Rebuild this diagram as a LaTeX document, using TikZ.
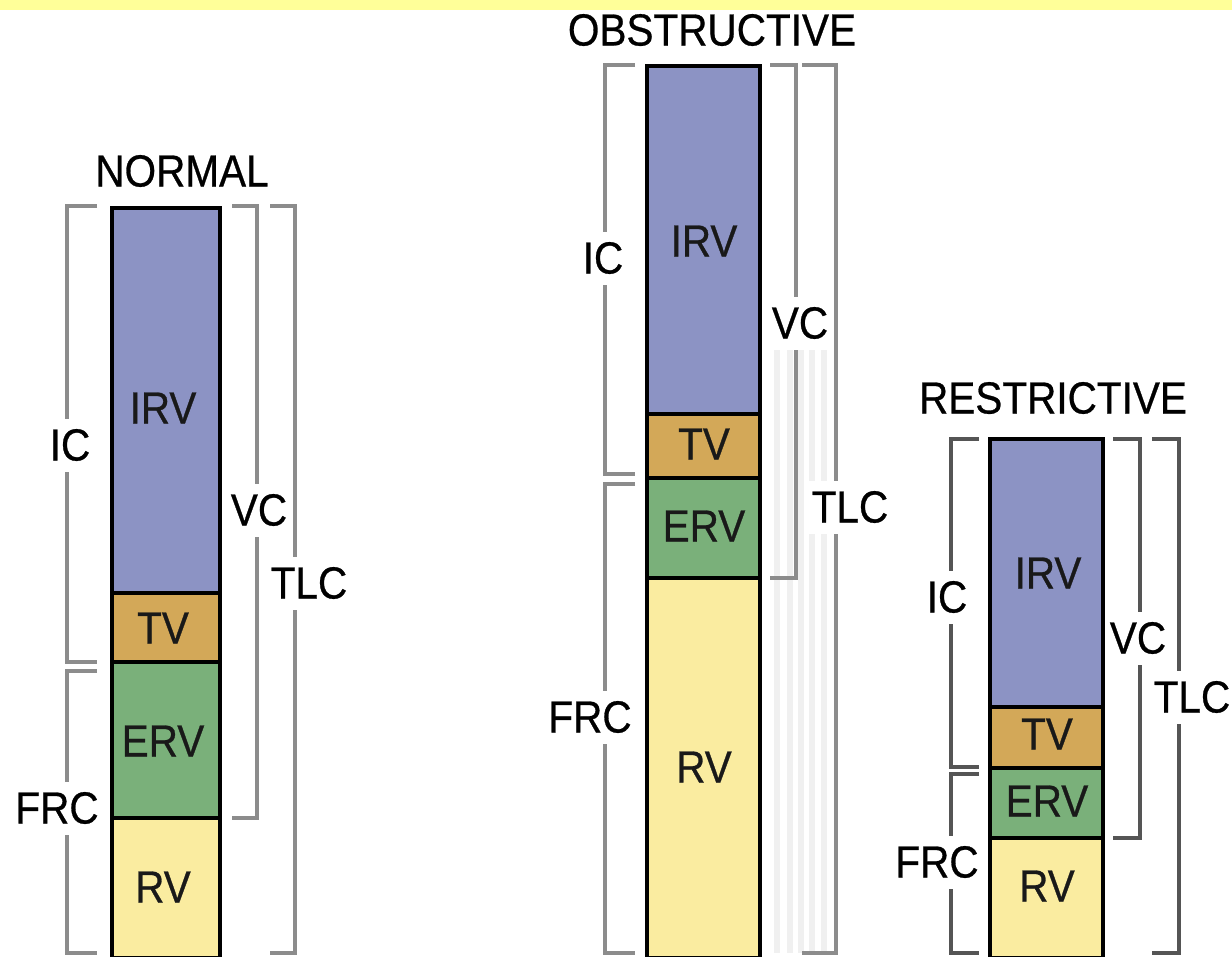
\documentclass[tikz,border=0pt]{standalone}
\usepackage{fontspec}
\setmainfont{Liberation Sans}[FakeStretch=0.9,FakeBold=0.6]
\definecolor{topband}{HTML}{FFFF99}
\definecolor{irvblue}{HTML}{8C93C4}
\definecolor{tvtan}{HTML}{D3A858}
\definecolor{ervgreen}{HTML}{7AB07A}
\definecolor{rvyellow}{HTML}{FAECA0}
\definecolor{brackgray}{HTML}{8C8C8C}
\definecolor{brackdark}{HTML}{555555}
\definecolor{stripegray}{HTML}{F0F0F0}
\usetikzlibrary{positioning}
\tikzset{
  segbox/.style={fill=#1, draw=black, line width=1.2pt},
  barframe/.style={draw=black, line width=1.4pt},
  seglabel/.style={font=\fontsize{12.8}{14}\selectfont, text=black!90, inner sep=0pt},
  brack/.style={draw=#1, line width=1.1pt},
  bracklabel/.style={fill=white, font=\fontsize{12.8}{14}\selectfont,
                     inner xsep=1pt, inner ysep=3pt},
  titlelabel/.style={font=\fontsize{12.8}{14}\selectfont, inner sep=0pt}
}

\begin{document}
\begin{tikzpicture}[x=0.01cm, y=-0.01cm]
  \useasboundingbox (0,0) rectangle (1232,956);
  \fill[topband] (0,0) rectangle (1232,10);

  % normal
  \node[titlelabel] (normal) at (182,171) {NORMAL};
  \draw[segbox=irvblue]   (112,208) rectangle (220,593);
  \draw[segbox=tvtan]     (112,593) rectangle (220,662);
  \draw[segbox=ervgreen]  (112,662) rectangle (220,818);
  \draw[segbox=rvyellow]  (112,818) rectangle (220,958);
  \draw[barframe] (112,208) rectangle (220,958);
  \node[seglabel] (n-irv) at (163,408) {IRV};
  \node[seglabel] (n-tv)  at (163,628) {TV};
  \node[seglabel] (n-erv) at (163,741) {ERV};
  \node[seglabel] (n-rv)  at (163,887) {RV};

  \draw[brack=brackgray] (97,206) -- (67,206) -- (67,662) -- (97,662);
  \draw[brack=brackgray] (97,671) -- (67,671) -- (67,953) -- (97,953);
  \draw[brack=brackgray] (232,206) -- (257,206) -- (257,818) -- (232,818);
  \draw[brack=brackgray] (270,206) -- (295,206) -- (295,953) -- (270,953);
  \node[bracklabel] (n-ic)  at (70,445)  {IC};
  \node[bracklabel] (n-frc) at (57,808)  {FRC};
  \node[bracklabel] (n-vc)  at (259,510) {VC};
  \node[bracklabel] (n-tlc) at (309,583) {TLC};

  % obstructive
  \node[titlelabel] (obstr) at (712,30) {OBSTRUCTIVE};
  \foreach \sx in {777,790,801,812,824}
    \fill[stripegray] (\sx-3,340) rectangle (\sx+3,953);
  \draw[segbox=irvblue]   (647,66)  rectangle (760,414);
  \draw[segbox=tvtan]     (647,414) rectangle (760,478);
  \draw[segbox=ervgreen]  (647,478) rectangle (760,578);
  \draw[segbox=rvyellow]  (647,578) rectangle (760,958);
  \draw[barframe] (647,66) rectangle (760,958);
  \node[seglabel] (o-irv) at (704,241) {IRV};
  \node[seglabel] (o-tv)  at (704,444) {TV};
  \node[seglabel] (o-erv) at (704,526) {ERV};
  \node[seglabel] (o-rv)  at (704,767) {RV};

  \draw[brack=brackgray] (635,65) -- (605,65) -- (605,474) -- (635,474);
  \draw[brack=brackgray] (635,484) -- (605,484) -- (605,953) -- (635,953);
  \draw[brack=brackgray] (770,65) -- (796,65) -- (796,578) -- (770,578);
  \draw[brack=brackgray] (802,65) -- (836,65) -- (836,953) -- (802,953);
  \node[bracklabel] (o-ic)  at (603,258) {IC};
  \node[bracklabel] (o-frc) at (590,717) {FRC};
  \node[bracklabel] (o-vc)  at (800,323) {VC};
  \node[bracklabel] (o-tlc) at (850,507) {TLC};

  % restrictive
  \node[titlelabel] (restr) at (1053,398) {RESTRICTIVE};
  \draw[segbox=irvblue]   (990,439) rectangle (1103,707);
  \draw[segbox=tvtan]     (990,707) rectangle (1103,768);
  \draw[segbox=ervgreen]  (990,768) rectangle (1103,838);
  \draw[segbox=rvyellow]  (990,838) rectangle (1103,958);
  \draw[barframe] (990,439) rectangle (1103,958);
  \node[seglabel] (r-irv) at (1048,573) {IRV};
  \node[seglabel] (r-tv)  at (1047,734) {TV};
  \node[seglabel] (r-erv) at (1047,801) {ERV};
  \node[seglabel] (r-rv)  at (1047,886) {RV};

  \draw[brack=brackdark] (979,439) -- (951,439) -- (951,767) -- (979,767);
  \draw[brack=brackdark] (979,774) -- (951,774) -- (951,953) -- (979,953);
  \draw[brack=brackdark] (1113,439) -- (1140,439) -- (1140,838) -- (1113,838);
  \draw[brack=brackdark] (1152,439) -- (1179,439) -- (1179,953) -- (1152,953);
  \node[bracklabel] (r-ic)  at (947,597)  {IC};
  \node[bracklabel] (r-frc) at (937,862)  {FRC};
  \node[bracklabel] (r-vc)  at (1138,638) {VC};
  \node[bracklabel] (r-tlc) at (1192,697) {TLC};
\end{tikzpicture}
\end{document}
